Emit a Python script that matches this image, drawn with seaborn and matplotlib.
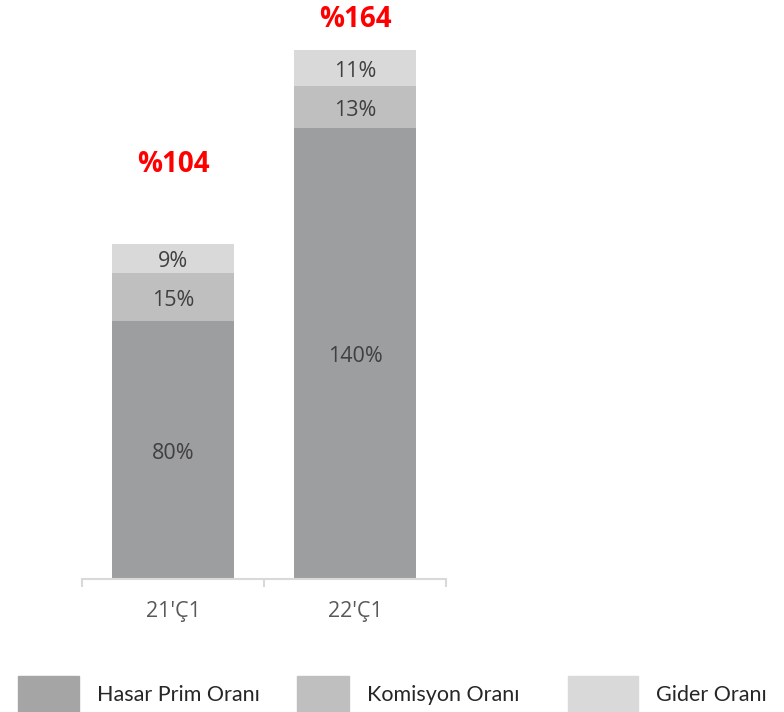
import matplotlib
matplotlib.use("Agg")
import matplotlib.pyplot as plt
import matplotlib.patches as mpatches
import matplotlib.transforms as mtransforms
import numpy as np
import pandas as pd
import seaborn as sns

periods = ["21'Ç1", "22'Ç1"]
hasar = [80, 140]
komisyon = [15, 13]
gider = [9, 11]
totals_text = ["%104", "%164"]
series_names = ["Hasar Prim Oranı", "Komisyon Oranı", "Gider Oranı"]
colors = ["#9D9EA0", "#BFBFBF", "#D9D9D9"]
legend_colors = ["#A5A5A5", "#BFBFBF", "#D9D9D9"]

sns.set_style("white")
plt.rcParams["font.family"] = ["Open Sans", "DejaVu Sans"]

df = pd.DataFrame({"period": periods, "hasar": hasar, "komisyon": komisyon, "gider": gider})
df["cum1"] = df["hasar"]
df["cum2"] = df["hasar"] + df["komisyon"]
df["cum3"] = df["cum2"] + df["gider"]

fig = plt.figure(figsize=(7.84, 7.12), dpi=100)
px = 3.225  # pixels per percentage point
ax = fig.add_axes([82 / 784, (712 - 579) / 712, 364 / 784, 579 / 712])

# stacked look: draw cumulative totals from tallest to shortest
for col, c in zip(["cum3", "cum2", "cum1"], colors[::-1]):
    sns.barplot(data=df, x="period", y=col, color=c, width=0.665,
                saturation=1, linewidth=0, ax=ax, errorbar=None)

ax.set_xlim(-0.5, 1.5)
ax.set_ylim(0, 579 / px)
ax.set_xlabel("")
ax.set_ylabel("")
ax.set_yticks([])
for s in ["left", "right", "top"]:
    ax.spines[s].set_visible(False)
ax.spines["bottom"].set_color("#D9D9D9")
ax.spines["bottom"].set_linewidth(1.5)
ax.set_xticks([-0.5, 0.5, 1.5])
ax.set_xticklabels([])
ax.tick_params(axis="x", which="major", bottom=True, length=6, width=1.5,
               color="#D9D9D9", direction="out")
ax.set_xticks([0, 1], minor=True)
ax.set_xticklabels(periods, minor=True)
ax.tick_params(axis="x", which="minor", bottom=True, length=0, pad=15.5,
               labelsize=15.5, labelcolor="#595959")

# segment labels (nudged down a few pixels to sit like the original)
shift = mtransforms.offset_copy(ax.transData, fig=fig, x=0, y=-3.5, units="dots")
for i in range(len(periods)):
    lows = [0, df["cum1"][i], df["cum2"][i]]
    vals = [hasar[i], komisyon[i], gider[i]]
    for lo, v in zip(lows, vals):
        ax.text(i, lo + v / 2, f"{v}%", ha="center", va="center",
                fontsize=15.5, color="#404040", transform=shift)

# total labels
offsets = [24.4, 9.4]
for i, t in enumerate(totals_text):
    ax.text(i, df["cum3"][i] + offsets[i], t, ha="center", va="center",
            fontsize=20, fontweight="bold", color="#FF0000", clip_on=False)

# legend, one entry per column
legend_x = [18, 297, 568]
handle_len = [2.84, 2.42, 3.26]
for name, c, lx, hl in zip(series_names, legend_colors, legend_x, handle_len):
    h = mpatches.Patch(color=c, label=name)
    fig.legend(handles=[h], loc="center left", bbox_to_anchor=(lx / 784, 1 - 694 / 712),
               frameon=False, handlelength=hl, handleheight=2.23,
               handletextpad=0.85, borderpad=0, borderaxespad=0,
               prop={"family": ["Lato", "DejaVu Sans"], "size": 15.5})

fig.savefig("out.png", dpi=100)
